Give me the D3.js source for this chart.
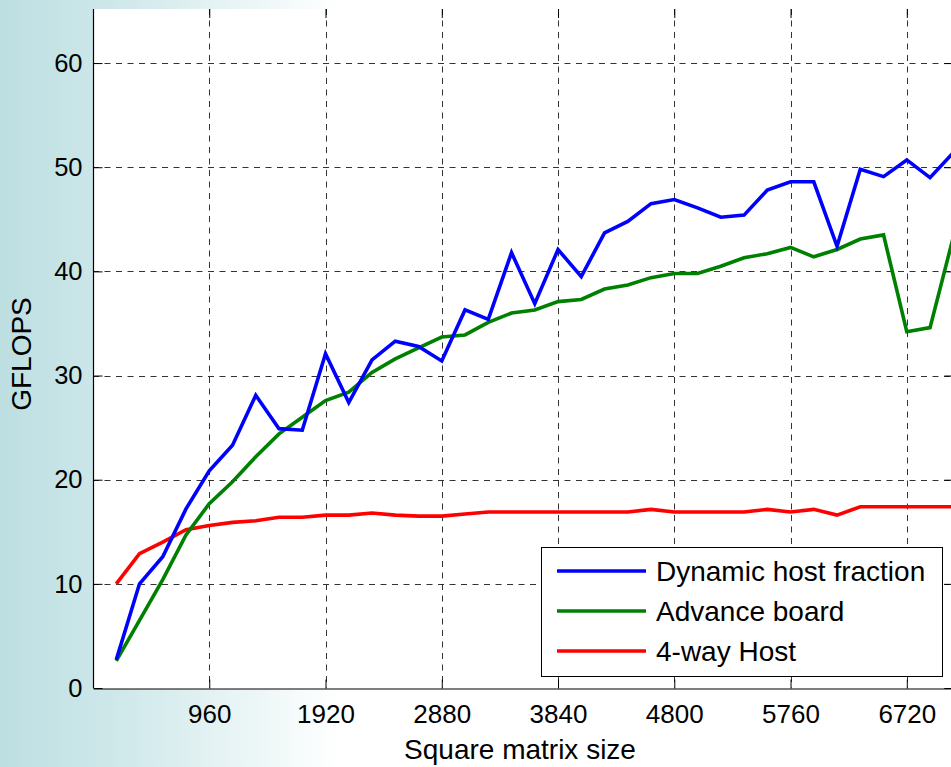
<!DOCTYPE html>
<html>
<head>
<meta charset="utf-8">
<script src="https://cdn.jsdelivr.net/npm/d3@7"></script>
<style>
  html, body { margin: 0; padding: 0; background: #fff; }
  svg { display: block; }
  text { font-family: "Liberation Sans", Arial, Helvetica, sans-serif; fill: #000; }
</style>
</head>
<body>
<svg id="chart" width="951" height="767"></svg>
<script>
// ---- data ----
const matrixSizes = [192, 384, 576, 768, 960, 1152, 1344, 1536, 1728, 1920, 2112, 2304, 2496, 2688, 2880, 3072, 3264, 3456, 3648, 3840, 4032, 4224, 4416, 4608, 4800, 4992, 5184, 5376, 5568, 5760, 5952, 6144, 6336, 6528, 6720, 6912, 7104];
const dynamicHost = [2.7, 10.0, 12.6, 17.2, 20.85, 23.3, 28.1, 24.9, 24.75, 32.1, 27.4, 31.5, 33.3, 32.8, 31.4, 36.3, 35.4, 41.8, 36.9, 42.1, 39.5, 43.7, 44.8, 46.5, 46.9, 46.1, 45.2, 45.4, 47.8, 48.6, 48.6, 42.4, 49.8, 49.1, 50.7, 49.0, 51.4];
const advanceBoard = [2.6, 6.5, 10.4, 14.7, 17.7, 19.8, 22.2, 24.4, 26.0, 27.6, 28.4, 30.3, 31.6, 32.65, 33.7, 33.9, 35.1, 36.0, 36.3, 37.1, 37.3, 38.3, 38.7, 39.4, 39.8, 39.8, 40.5, 41.3, 41.7, 42.3, 41.4, 42.1, 43.1, 43.5, 34.2, 34.6, 43.3];
const fourWayHost = [10.0, 12.9, 14.0, 15.2, 15.6, 15.9, 16.05, 16.4, 16.4, 16.6, 16.6, 16.8, 16.6, 16.5, 16.5, 16.7, 16.9, 16.9, 16.9, 16.9, 16.9, 16.9, 16.9, 17.15, 16.9, 16.9, 16.9, 16.9, 17.15, 16.9, 17.15, 16.6, 17.4, 17.4, 17.4, 17.4, 17.4];
const xTicks = [960, 1920, 2880, 3840, 4800, 5760, 6720];
const yTicks = [0, 10, 20, 30, 40, 50, 60];
const seriesNames = ["Dynamic host fraction", "Advance board", "4-way Host"];
const seriesColors = ["#0000ff", "#008000", "#ff0000"];
const xDomain = [0, 7104];
const yDomain = [0, 65];

(function () {
  // ---- layout ----
  const W = 951, H = 767;
  const pL = 93, pR = 953.3, pT = 11, pB = 688;
  const svg = d3.select("#chart");

  const defs = svg.append("defs");
  const grad = defs.append("linearGradient").attr("id", "bg")
    .attr("gradientUnits", "userSpaceOnUse").attr("x1", 0).attr("x2", 340).attr("y1", 0).attr("y2", 0);
  grad.append("stop").attr("offset", 0).attr("stop-color", "#bddfe2");
  grad.append("stop").attr("offset", 0.35).attr("stop-color", "#cfe8ea");
  grad.append("stop").attr("offset", 1).attr("stop-color", "#ffffff");
  svg.append("rect").attr("width", W).attr("height", H).attr("fill", "url(#bg)");

  const x = d3.scaleLinear().domain(xDomain).range([pL, pR]);
  const y = d3.scaleLinear().domain(yDomain).range([pB, pT]);

  // plot area
  svg.append("rect").attr("x", pL).attr("y", 9).attr("width", pR - pL).attr("height", pB - 9 + 1).attr("fill", "#fff");

  // grid lines
  const grid = svg.append("g").attr("stroke", "#333").attr("stroke-width", 1).attr("stroke-dasharray", "6,5.5");
  grid.selectAll(".gx").data(xTicks).join("line")
    .attr("x1", d => Math.round(x(d)) + 0.5).attr("x2", d => Math.round(x(d)) + 0.5)
    .attr("y1", 9).attr("y2", pB);
  grid.selectAll(".gy").data(yTicks.filter(d => d > 0)).join("line")
    .attr("y1", d => Math.round(y(d)) + 0.5).attr("y2", d => Math.round(y(d)) + 0.5)
    .attr("x1", pL).attr("x2", pR);

  // axes
  const fontFam = "Liberation Sans, Arial, sans-serif";
  const fmt = d3.format("d");
  const xAxis = d3.axisBottom(x).tickValues(xTicks).tickFormat(fmt).tickSize(-9).tickPadding(16).tickSizeOuter(0);
  const gx = svg.append("g").attr("transform", `translate(0,${pB + 0.5})`).call(xAxis);
  gx.select(".domain").attr("stroke", "#000").attr("stroke-width", 1.2);
  gx.selectAll(".tick line").attr("stroke", "#000");
  gx.selectAll(".tick text").attr("font-size", 26).attr("font-family", fontFam).attr("fill", "#000");

  const xAxisTop = d3.axisTop(x).tickValues(xTicks).tickSize(-9).tickFormat("").tickSizeOuter(0);
  const gxt = svg.append("g").attr("transform", `translate(0,9)`).call(xAxisTop);
  gxt.select(".domain").remove();
  gxt.selectAll(".tick line").attr("stroke", "#000");

  const yAxis = d3.axisLeft(y).tickValues(yTicks).tickFormat(fmt).tickSize(-9).tickPadding(11).tickSizeOuter(0);
  const gy = svg.append("g").attr("transform", `translate(${pL + 0.5},0)`).call(yAxis);
  gy.select(".domain").attr("stroke", "#000").attr("stroke-width", 1.2).attr("d", `M0,9V${pB}`);
  gy.selectAll(".tick line").attr("stroke", "#000");
  gy.selectAll(".tick text").attr("font-size", 25.5).attr("font-family", fontFam).attr("fill", "#000");

  const yAxisRight = d3.axisRight(y).tickValues(yTicks).tickSize(-9).tickFormat("").tickSizeOuter(0);
  const gyr = svg.append("g").attr("transform", `translate(${pR},0)`).call(yAxisRight);
  gyr.select(".domain").attr("stroke", "#000");
  gyr.selectAll(".tick line").attr("stroke", "#000");

  // lines
  const allSeries = [dynamicHost, advanceBoard, fourWayHost];
  const line = d3.line().x((d, i) => x(matrixSizes[i])).y(d => y(d));
  const order = [2, 1, 0];
  svg.append("g").selectAll("path").data(order).join("path")
    .attr("d", k => line(allSeries[k]))
    .attr("fill", "none")
    .attr("stroke", k => seriesColors[k])
    .attr("stroke-width", 3.6)
    .attr("stroke-linejoin", "miter")
    .attr("stroke-linecap", "butt");

  // axis labels
  svg.append("text").attr("x", 520).attr("y", 759).attr("text-anchor", "middle").attr("font-size", 28).text("Square matrix size");
  svg.append("text").attr("transform", "translate(31,354) rotate(-90)").attr("text-anchor", "middle").attr("font-size", 28).text("GFLOPS");

  // legend
  const lg = svg.append("g");
  lg.append("rect").attr("x", 541.5).attr("y", 547.5).attr("width", 401).attr("height", 129)
    .attr("fill", "#fff").attr("stroke", "#000").attr("stroke-width", 1);
  const rows = lg.selectAll(".row").data(seriesNames).join("g").attr("transform", (d, i) => `translate(0,${571 + i * 40})`);
  rows.append("line").attr("x1", 557).attr("x2", 646).attr("y1", 0).attr("y2", 0)
    .attr("stroke", (d, i) => seriesColors[i]).attr("stroke-width", 3.6);
  rows.append("text").attr("x", 656).attr("y", 10).attr("font-size", 28).text(d => d);
})();
</script>
</body>
</html>
